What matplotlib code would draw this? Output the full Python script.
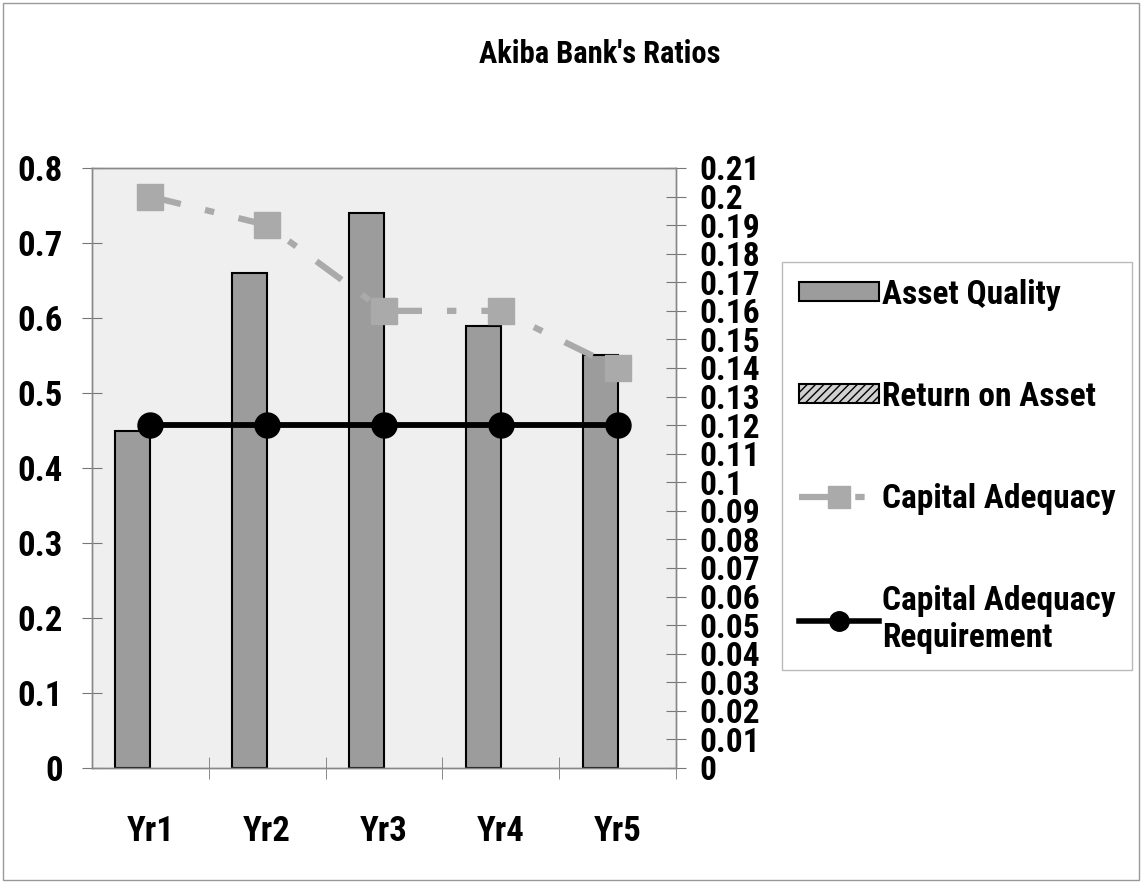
import matplotlib
matplotlib.use('Agg')
import matplotlib.pyplot as plt
from matplotlib.patches import Rectangle, Patch
from matplotlib.lines import Line2D
import numpy as np

categories = ['Yr1', 'Yr2', 'Yr3', 'Yr4', 'Yr5']
asset_quality = [0.45, 0.66, 0.74, 0.59, 0.55]
return_on_asset = [0, 0, 0, 0, 0]
capital_adequacy = [0.20, 0.19, 0.16, 0.16, 0.14]
car_requirement = [0.12, 0.12, 0.12, 0.12, 0.12]

left_ticks = [0, 0.1, 0.2, 0.3, 0.4, 0.5, 0.6, 0.7, 0.8]
right_ticks = [i / 100 for i in range(22)]

plt.rcParams['font.family'] = ['Liberation Sans Narrow', 'Roboto Condensed', 'Liberation Sans', 'DejaVu Sans']
plt.rcParams['font.weight'] = 'bold'

fig = plt.figure(figsize=(11.42, 8.83), dpi=100, facecolor='white')
ax = fig.add_axes([92/1142, 1 - 768/883, 584/1142, 600/883])
ax2 = ax.twinx()

x = np.arange(len(categories))
w = 0.3
ax.set_facecolor('#efefef')
ax.bar(x - w/2, asset_quality, w, color='#9c9c9c', edgecolor='black', linewidth=1.5, zorder=2)
ax.bar(x + w/2, return_on_asset, w, color='#d0d0d0', edgecolor='black', hatch='////', linewidth=0, zorder=2)

ax.set_xlim(-0.5, len(categories) - 0.5)
ax.set_ylim(0, 0.8)
ax.set_yticks(left_ticks)
ax.set_yticklabels(['%g' % t for t in left_ticks])
ax.set_xticks(x)
ax.set_xticklabels(categories)
ax.set_xticks(np.arange(0.5, len(categories) - 0.5 + 0.01, 1.0), minor=True)
ax.tick_params(axis='x', which='major', length=0, pad=34, labelsize=25)
ax.tick_params(axis='x', which='minor', length=16, direction='inout', color='#777777')
ax.tick_params(axis='y', length=14, direction='inout', color='#777777', pad=14, labelsize=25)

ca_style = (0, (5, 4, 1.5, 4))
ax2.plot(x, capital_adequacy, color='#aaaaaa', linewidth=4.5, linestyle=ca_style,
         marker='s', markersize=19, zorder=3)
ax2.plot(x, car_requirement, color='black', linewidth=4.2, marker='o', markersize=18, zorder=4)
ax2.set_ylim(0, 0.21)
ax2.set_yticks(right_ticks)
ax2.set_yticklabels(['%g' % t for t in right_ticks])
ax2.tick_params(axis='y', length=14, direction='inout', color='#777777', pad=10, labelsize=24)

for a in (ax, ax2):
    for s in a.spines.values():
        s.set_color('#888888')
        s.set_linewidth(1)

fig.text(600/1142, 1 - 54/883, "Akiba Bank's Ratios", ha='center', va='center', fontsize=22, fontweight='bold')

handles = [
    Patch(facecolor='#9c9c9c', edgecolor='black', linewidth=1.5),
    Patch(facecolor='#d0d0d0', edgecolor='black', hatch='////', linewidth=1.5),
    Line2D([], [], color='#aaaaaa', linewidth=4.5, linestyle=ca_style, marker='s', markersize=16),
    Line2D([], [], color='black', linewidth=4, marker='o', markersize=14),
]
labels = ['Asset Quality', 'Return on Asset', 'Capital Adequacy', 'Capital Adequacy\nRequirement']
leg = fig.legend(handles, labels, loc='upper left', bbox_to_anchor=(782/1142, 1 - 262/883),
                 fontsize=24, frameon=True, fancybox=False, edgecolor='#aaaaaa',
                 handlelength=2.4, handleheight=0.5, handletextpad=0.1, labelspacing=2.1,
                 borderpad=0.5, borderaxespad=0)
leg.get_frame().set_linewidth(1)

fig.patches.append(Rectangle((0.003, 0.003), 0.994, 0.994, transform=fig.transFigure,
                             fill=False, edgecolor='#999999', linewidth=1))

fig.savefig('out.png', dpi=100, facecolor='white')
